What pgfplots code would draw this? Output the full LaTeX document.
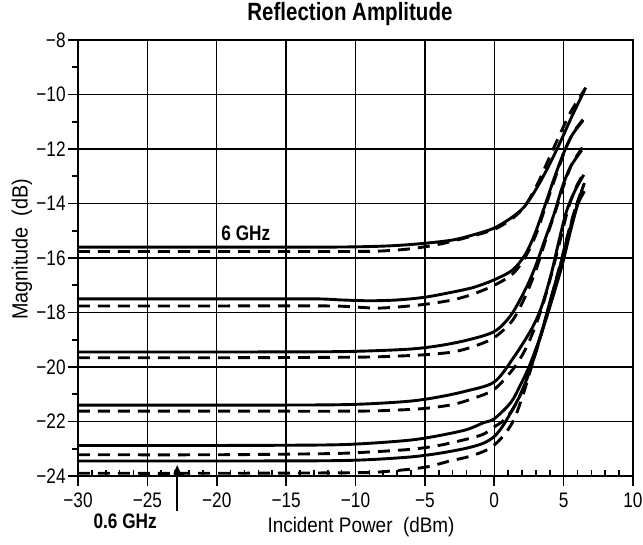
\documentclass[border=0pt]{standalone}
\usepackage{fontspec}
\setmainfont{Liberation Sans}[FakeStretch=0.82]
\newfontfamily\labelfont{Liberation Sans}[FakeStretch=0.9]
\usepackage{pgfplots}
\pgfplotsset{compat=1.18}
\usetikzlibrary{arrows.meta}

\tikzset{
  sol/.style={black,line width=1.45pt,smooth,tension=0.5},
  dsh/.style={black,line width=1.45pt,smooth,tension=0.5,dash pattern=on 6pt off 4pt},
}

\begin{document}
\begin{tikzpicture}
\begin{axis}[
  scale only axis, width=277.5pt, height=218pt,
  xmin=-30, xmax=10, ymin=-24, ymax=-8,
  xtick={-30,-25,...,10},
  xticklabels={−30,−25,−20,−15,−10,−5,0,5,10},
  ytick={-24,-22,...,-8},
  yticklabels={−24,−22,−20,−18,−16,−14,−12,−10,−8},
  minor x tick num=4, minor y tick num=1,
  tick align=outside, xtick pos=bottom, ytick pos=left,
  major tick length=5pt, minor tick length=3pt,
  every minor x tick/.append style={yshift=3pt},
  every tick/.style={black,line width=0.8pt},
  grid=major, major grid style={black,line width=0.7pt},
  axis line style={line width=1.3pt},
  tick label style={font=\fontsize{10.5}{12}\selectfont},
  yticklabel style={inner xsep=1pt},
  every axis title shift=0pt,
  title={\bfseries Reflection Amplitude},
  title style={font=\fontsize{12.5}{15}\selectfont,at={(axis description cs:0.49,1.06)},anchor=center},
  xlabel={Incident Power\enspace(dBm)},
  ylabel={Magnitude\enspace(dB)},
  every axis x label/.style={at={(axis description cs:0.51,-0.117)},anchor=center,font=\labelfont\fontsize{10.5}{12}\selectfont},
  every axis y label/.style={at={(axis description cs:-0.101,0.52)},rotate=90,anchor=center,font=\labelfont\fontsize{11}{13}\selectfont},
  clip=false,
]
% 6 GHz
\addplot[sol] coordinates {(-30,-15.6) (-20,-15.6) (-12,-15.6) (-9,-15.58) (-7,-15.54) (-5,-15.46) (-3,-15.34) (-1.5,-15.15) (0,-14.9) (1.3,-14.5) (2.2,-14.1) (3.1,-13.4) (4.0,-12.55) (4.8,-11.7) (5.6,-10.8) (6.5,-9.85)};
\addplot[dsh] coordinates {(-30,-15.76) (-20,-15.76) (-10,-15.76) (-8,-15.74) (-6,-15.66) (-4,-15.5) (-2,-15.25) (0,-14.95) (1.3,-14.55) (2.2,-14.1) (3.1,-13.3) (3.9,-12.4) (4.7,-11.5) (5.5,-10.65) (6.6,-9.75)};
% 2
\addplot[sol] coordinates {(-30,-17.5) (-20,-17.5) (-13,-17.5) (-11,-17.54) (-9,-17.57) (-7,-17.54) (-5,-17.44) (-3,-17.25) (-1.5,-17.08) (0,-16.8) (1.3,-16.45) (2.2,-15.9) (2.9,-15.15) (3.6,-14.15) (4.3,-13.1) (5.0,-12.15) (5.6,-11.5) (6.4,-10.95)};
\addplot[dsh] coordinates {(-30,-17.76) (-20,-17.76) (-12,-17.76) (-10,-17.8) (-8.5,-17.84) (-7,-17.8) (-5,-17.7) (-3,-17.54) (-1.5,-17.32) (0,-17.0) (1.3,-16.6) (2.2,-16.0) (3.0,-15.15) (3.7,-14.1) (4.4,-13.05) (5.1,-12.05) (5.7,-11.4) (6.5,-10.85)};
% 3
\addplot[sol] coordinates {(-30,-19.45) (-20,-19.45) (-12,-19.44) (-9,-19.41) (-6,-19.34) (-4,-19.22) (-2,-19.02) (0,-18.7) (1.2,-18.1) (2.2,-17.2) (2.9,-16.4) (3.6,-15.4) (4.3,-14.4) (4.9,-13.4) (5.5,-12.65) (6.3,-12.05)};
\addplot[dsh] coordinates {(-30,-19.66) (-20,-19.66) (-10,-19.64) (-7,-19.6) (-5,-19.55) (-3,-19.45) (-1.5,-19.25) (0,-18.92) (1.3,-18.3) (2.2,-17.45) (3.0,-16.45) (3.7,-15.35) (4.4,-14.3) (5.0,-13.35) (5.6,-12.55) (6.35,-11.95)};
% 4
\addplot[sol] coordinates {(-30,-21.4) (-20,-21.4) (-12,-21.39) (-9,-21.35) (-6,-21.25) (-4,-21.1) (-2,-20.88) (0,-20.55) (1.4,-19.65) (2.7,-18.6) (3.4,-17.8) (4.1,-16.6) (4.65,-15.4) (5.2,-14.3) (5.8,-13.55) (6.45,-12.95)};
\addplot[dsh] coordinates {(-30,-21.62) (-20,-21.62) (-10,-21.62) (-7,-21.58) (-5,-21.52) (-3,-21.38) (-1.5,-21.15) (0,-20.82) (1.4,-20.05) (2.3,-19.3) (3.0,-18.45) (3.6,-17.55) (4.2,-16.45) (4.8,-15.25) (5.35,-14.15) (5.9,-13.4) (6.5,-12.85)};
% 5
\addplot[sol] coordinates {(-30,-22.88) (-20,-22.88) (-12,-22.86) (-9,-22.8) (-6,-22.68) (-4,-22.52) (-2,-22.3) (-0.8,-22.05) (0,-21.9) (1.2,-21.3) (1.9,-20.65) (2.5,-20.0) (3.1,-19.2) (3.7,-18.3) (4.3,-17.3) (4.9,-16.25) (5.5,-15.0) (6.05,-13.95) (6.45,-13.3)};
\addplot[dsh] coordinates {(-30,-23.22) (-20,-23.22) (-12,-23.18) (-9,-23.12) (-6,-23.02) (-4,-22.88) (-2,-22.65) (-0.8,-22.47) (0,-22.2) (0.7,-21.95) (1.4,-21.5) (2.15,-20.7) (2.9,-19.6) (3.5,-18.6) (4.1,-17.5) (4.7,-16.4) (5.3,-15.2) (5.9,-14.1) (6.5,-13.25)};
% 0.6 GHz
\addplot[sol] coordinates {(-30,-23.45) (-20,-23.45) (-12,-23.44) (-9,-23.4) (-6,-23.3) (-4,-23.17) (-2,-22.98) (-0.8,-22.8) (0,-22.55) (0.7,-22.1) (1.9,-21.0) (2.75,-19.85) (3.4,-18.75) (4.1,-17.45) (4.8,-16.2) (5.4,-15.05) (6.0,-14.05) (6.5,-13.55)};
\addplot[dsh] coordinates {(-30,-23.9) (-20,-23.9) (-10,-23.88) (-7.7,-23.83) (-5,-23.68) (-3.2,-23.45) (-1.7,-23.27) (-0.3,-22.98) (0.7,-22.5) (1.45,-21.9) (2.15,-20.9) (2.85,-19.7) (3.5,-18.6) (4.2,-17.3) (4.8,-16.15) (5.4,-14.95) (6.0,-13.95) (6.55,-13.4)};

\node[font=\bfseries\fontsize{10.5}{12}\selectfont] at (axis cs:-17.9,-15.1) {6 GHz};
\node[font=\bfseries\fontsize{10.5}{12}\selectfont] at (axis cs:-26.6,-25.65) {0.6 GHz};
\draw[-{Stealth[length=4.5pt,width=4pt]},line width=1.1pt] (axis cs:-22.85,-25.3) -- (axis cs:-22.85,-23.6);
\end{axis}
\pgfresetboundingbox
\path[use as bounding box] ([shift={(-39pt,-34.5pt)}]current axis.south west) rectangle ([shift={(5pt,20pt)}]current axis.north east);
\end{tikzpicture}
\end{document}
